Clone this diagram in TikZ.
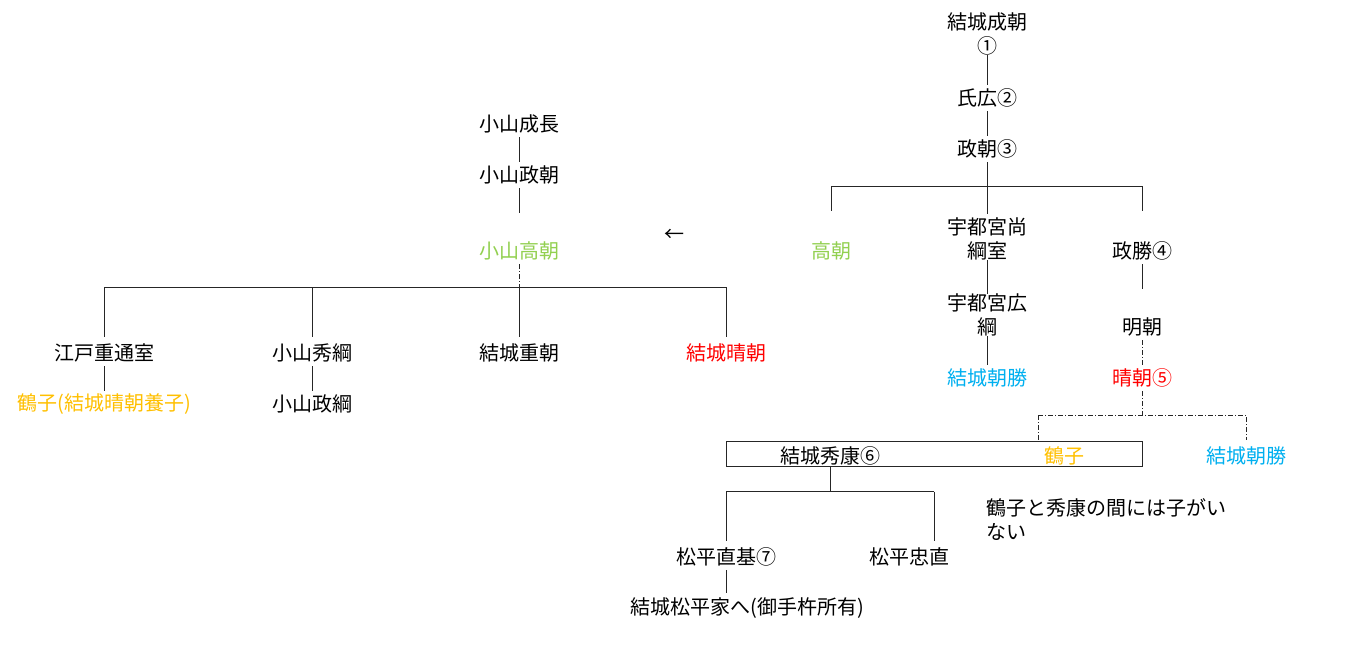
\documentclass[tikz,border=0pt]{standalone}
\usepackage{fontspec}
\newfontfamily\jp{Noto Sans CJK JP}
\usetikzlibrary{calc}
\definecolor{cgreen}{HTML}{92D050}
\definecolor{ccyan}{HTML}{00B0F0}
\definecolor{cred}{HTML}{FF0000}
\definecolor{corange}{HTML}{FFC000}
\begin{document}
\begin{tikzpicture}[x=1pt,y=-1pt,
  lbl/.style={font=\jp\fontsize{20}{24}\selectfont, inner sep=0pt, minimum height=26pt, align=center},
  conn/.style={line width=1pt, black!85},
  dd/.style={conn, dash pattern=on 5pt off 2pt on 1pt off 2pt}]
\useasboundingbox[fill=white] (0,0) rectangle (1350,672);
% right tree
\node[lbl] (seicho) at (987,34) {結城成朝\\①};
\node[lbl] (ujihiro) at (987,98) {氏広②};
\node[lbl] (masatomo) at (987,149) {政朝③};
\node[lbl,text=cgreen] (takaR) at (831,251) {高朝};
\node[lbl] (utsu1) at (987,239) {宇都宮尚\\綱室};
\node[lbl] (masakatsu) at (1142,251) {政勝④};
\node[lbl] (utsu2) at (987,315) {宇都宮広\\綱};
\node[lbl] (akitomo) at (1142,327) {明朝};
\node[lbl,text=ccyan] (tomokatsu1) at (987,378) {結城朝勝};
\node[lbl,text=cred] (harutomo) at (1142,378) {晴朝⑤};
\node[draw, conn, minimum width=416pt, minimum height=25pt, inner sep=0pt] (box) at (934,453.5) {};
\node[lbl] (hideyasu) at (830,456) {結城秀康⑥};
\node[lbl,text=corange] (tsuruR) at (1064,456) {鶴子};
\node[lbl,text=ccyan] (tomokatsu2) at (1246,456) {結城朝勝};
\node[lbl] (naomoto) at (726,557) {松平直基⑦};
\node[lbl] (tadanao) at (909,557) {松平忠直};
\node[lbl] (matsu) at (747,608) {結城松平家へ(御手杵所有)};
\node[lbl, align=left, anchor=west] (note) at (986,520) {鶴子と秀康の間には子がい\\ない};
% left tree
\node[lbl] (narinaga) at (519,124) {小山成長};
\node[lbl] (masatomoL) at (519,175) {小山政朝};
\node[lbl,text=cgreen] (takaL) at (519,251) {小山高朝};
\node[lbl] (edo) at (104,353) {江戸重通室};
\node[lbl] (hidetsuna) at (312,353) {小山秀綱};
\node[lbl] (shigetomo) at (519,353) {結城重朝};
\node[lbl,text=cred] (harutomoL) at (726,353) {結城晴朝};
\node[lbl,text=corange] (tsuruL) at (104,404) {鶴子(結城晴朝養子)};
\node[lbl] (masatsuna) at (312,404) {小山政綱};
\node[lbl] (arrow) at (674,235) {←};
% connectors right
\draw[conn] (seicho.south) -- (ujihiro.north);
\draw[conn] (ujihiro.south) -- (masatomo.north);
\coordinate (j1) at ($(masatomo.south)+(0,24)$);
\draw[conn] (masatomo.south) -- (j1);
\draw[conn] (takaR.north |- j1) -- (masakatsu.north |- j1);
\draw[conn] (j1) -- ($(utsu1.north)+(0,-4)$);
\draw[conn] (takaR.north |- j1) -- ($(takaR.north)+(0,-27)$);
\draw[conn] (masakatsu.north |- j1) -- ($(masakatsu.north)+(0,-27)$);
\draw[conn] (utsu1.south) -- (utsu2.north);
\draw[conn] (masakatsu.south) -- ++(0,25);
\draw[conn] (utsu2.south) -- (tomokatsu1.north);
\draw[dd] (akitomo.south) -- (harutomo.north);
\draw[dd] (harutomo.south) -- ++(0,24) coordinate (j2);
\coordinate (j2L) at ($(tsuruR.north |- j2)+(-26,0)$);
\draw[dd] (j2L) -- (tomokatsu2.north |- j2) -- ($(tomokatsu2.north)+(0,-3)$);
\draw[dd] (j2L) -- (j2L |- box.north);
\draw[conn] (hideyasu.south |- box.south) -- ++(0,25) coordinate (j3);
\draw[conn] (naomoto.north |- j3) -- ++(208,0) coordinate (j3R);
\draw[conn] (naomoto.north |- j3) -- ($(naomoto.north)+(0,-3)$);
\draw[conn] (j3R) -- ($(j3R |- naomoto.north)+(0,-3)$);
\draw[conn] (naomoto.south) -- ($(naomoto.south |- matsu.north)+(0,-2)$);
% connectors left
\draw[conn] (narinaga.south) -- (masatomoL.north);
\draw[conn] (masatomoL.south) -- ++(0,25);
\draw[dd] (takaL.south) -- ++(0,23) coordinate (j4);
\draw[conn] (edo.north |- j4) -- (harutomoL.north |- j4);
\foreach \c in {edo,hidetsuna,shigetomo,harutomoL}
  \draw[conn] (\c.north |- j4) -- ($(\c.north)+(0,-3)$);
\draw[conn] (edo.south) -- (tsuruL.north);
\draw[conn] (hidetsuna.south) -- (masatsuna.north);
\end{tikzpicture}
\end{document}
